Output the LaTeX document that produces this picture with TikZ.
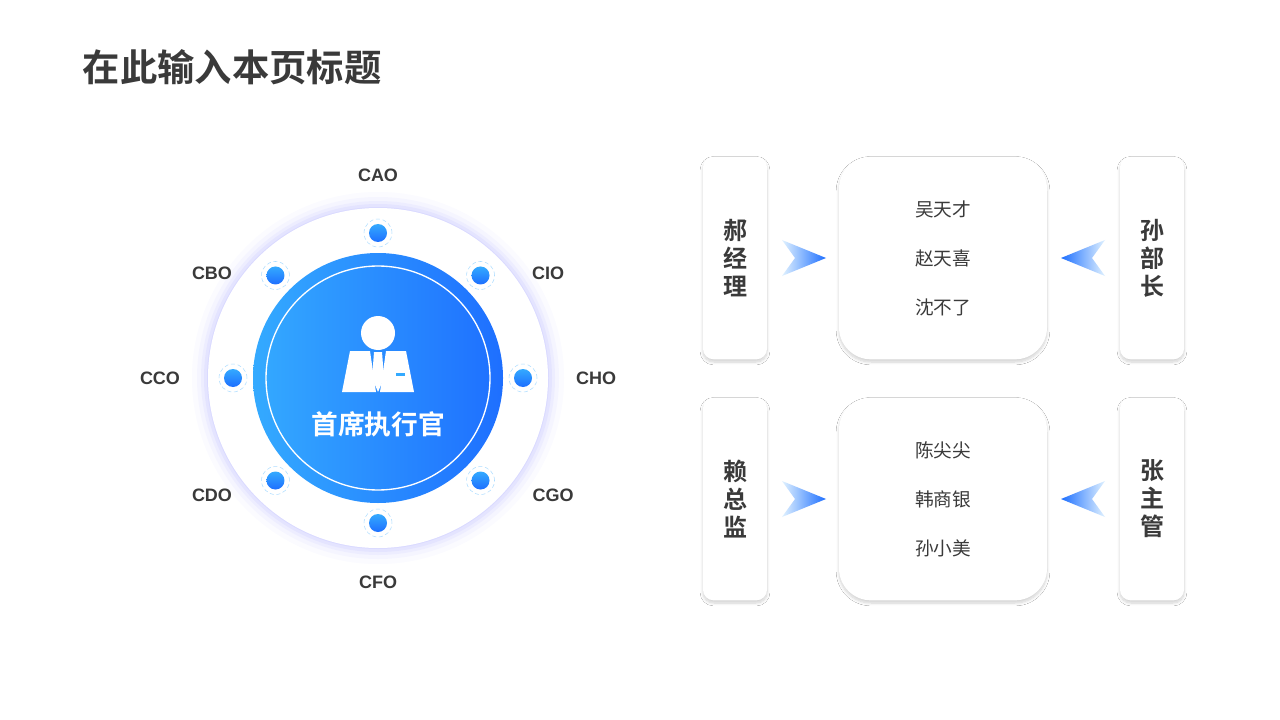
\documentclass[tikz,border=0pt]{standalone}
\usepackage{fontspec}
\setmainfont{Liberation Sans}
\newfontfamily\cjk[BoldFont=Noto Sans CJK SC Bold]{Noto Sans CJK SC}
\usetikzlibrary{positioning, shadows.blur}
\definecolor{ink}{HTML}{3A3A3A}
\definecolor{deepblue}{HTML}{1E6FFF}
\definecolor{skyblue}{HTML}{34AAFF}
\tikzset{
    card/.style={fill=white, rounded corners=#1, blur shadow={shadow xshift=0pt, shadow yshift=-2pt, shadow blur steps=8, shadow blur extra rounding=4pt, shadow opacity=18}, inner sep=0pt},
    rolelabel/.style={font=\bfseries\fontsize{13.5}{14}\selectfont, text=ink},
    dotbulb/.style={circle, minimum size=13.5pt, inner sep=0pt, top color=skyblue, bottom color=deepblue},
    dotring/.style={circle, minimum size=21pt, inner sep=0pt, draw=skyblue!40, densely dashed, line width=0.4pt},
    namelabel/.style={font=\cjk\fontsize{14}{16}\selectfont, text=ink},
    bosslabel/.style={font=\cjk\bfseries\fontsize{18}{21}\selectfont, text=ink, align=center},
}
\begin{document}
\begin{tikzpicture}[x=0.75pt, y=-0.75pt]
\useasboundingbox (0,0) rectangle (1280,720);
\fill[white] (0,0) rectangle (1280,720);
\node[anchor=west, font=\cjk\bfseries\fontsize{28}{32}\selectfont, text=ink] (title) at (78,67) {在此输入本页标题};

% glow around the outer disc
\foreach \r/\o in {186/0.04, 181/0.06, 177/0.08, 174/0.1, 171/0.12}
    \fill[blue!40, opacity=\o] (378,378) circle (\r);
\fill[white] (378,378) circle (170);
\node[circle, minimum size=187.5pt, inner sep=0pt, shading=axis, shading angle=135, left color=skyblue, right color=deepblue] (ceo) at (378,378) {};
\draw[white, line width=1pt] (ceo) circle (112);

% person icon
\fill[white] (378,333) circle (17);
\fill[white] (350,351) -- (370,351) -- (376,392) -- (342,392) -- cycle;
\fill[white] (406,351) -- (386,351) -- (380,392) -- (414,392) -- cycle;
\fill[white] (374,352) -- (382,352) -- (384,378) -- (378,392) -- (372,378) -- cycle;
\fill[skyblue] (396,373) rectangle (405,376);
\node[font=\cjk\bfseries\fontsize{20}{24}\selectfont, text=white] (ceotext) at (378,424) {首席执行官};

% satellite dots and labels
\foreach \a/\name/\lx/\ly in {90/CAO/378/175, 45/CIO/548/273, 0/CHO/596/378, -45/CGO/553/495,
                              -90/CFO/378/582, -135/CDO/212/495, 180/CCO/160/378, 135/CBO/212/273}{
    \node[dotring] (ring\name) at ($(378,378)+(\a:-145 and 145)$) {};
    \node[dotbulb] (dot\name) at (ring\name) {};
    \node[rolelabel] (lab\name) at (\lx,\ly) {\name};
}

% right panel
\foreach \k/\y/\left/\right/\na/\nb/\nc in {top/258/郝\\经\\理/孙\\部\\长/吴天才/赵天喜/沈不了,
                                           bot/499/赖\\总\\监/张\\主\\管/陈尖尖/韩商银/孙小美}{
    \node[card=8pt, minimum width=48pt, minimum height=152pt] (left\k) at (735,\y) {};
    \node[bosslabel] at (left\k) {\left};
    \node[card=24pt, minimum width=156pt, minimum height=152pt] (mid\k) at (943,\y) {};
    \node[namelabel] (na\k) at (943,\y-49) {\na};
    \node[namelabel] (nb\k) at (943,\y) {\nb};
    \node[namelabel] (nc\k) at (943,\y+49) {\nc};
    \node[card=8pt, minimum width=48pt, minimum height=152pt] (right\k) at (1152,\y) {};
    \node[bosslabel] at (right\k) {\right};
    \shade[left color=skyblue!15, right color=deepblue]
        (782,\y-18) -- (826,\y) -- (782,\y+18) -- (795,\y) -- cycle;
    \shade[right color=skyblue!15, left color=deepblue]
        (1105,\y-18) -- (1061,\y) -- (1105,\y+18) -- (1092,\y) -- cycle;
}
\end{tikzpicture}
\end{document}
